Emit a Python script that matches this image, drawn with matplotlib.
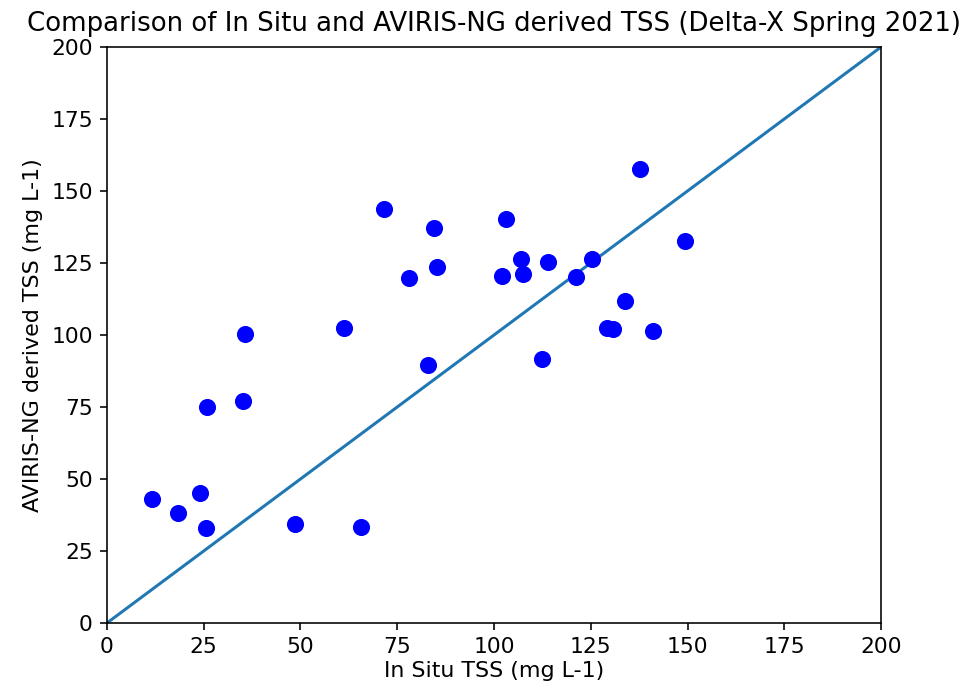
import matplotlib
matplotlib.use("Agg")
import matplotlib.pyplot as plt
import numpy as np

# in situ vs. AVIRIS-NG derived TSS (mg L-1)
insitu_tss = [11.6, 18.3, 24.0, 25.7, 25.9, 35.2, 35.7, 48.7, 61.2, 65.6,
              71.7, 78.0, 82.9, 84.4, 85.2, 102.1, 103.0, 107.0, 107.4, 112.3,
              113.9, 121.1, 125.2, 129.3, 130.8, 133.8, 137.7, 141.2, 149.4]
aviris_tss = [42.9, 38.3, 45.2, 33.1, 74.9, 77.1, 100.2, 34.4, 102.5, 33.2,
              143.6, 119.8, 89.6, 137.0, 123.6, 120.4, 140.3, 126.4, 121.3, 91.7,
              125.2, 120.3, 126.4, 102.5, 102.0, 111.7, 157.6, 101.5, 132.7]

one_to_one = [0, 200]
ticks = np.arange(0, 201, 25)

plt.rcParams.update({
    "xtick.labelsize": 10.8,
    "ytick.labelsize": 10.8,
    "axes.labelsize": 11,
})

dpi = 145
fig = plt.figure(figsize=(961 / dpi, 689 / dpi), dpi=dpi)
ax = fig.add_axes([0.1113, 0.0958, 0.8055, 0.836])

ax.scatter(insitu_tss, aviris_tss, color="blue", s=56, zorder=3)
ax.plot(one_to_one, one_to_one, color="C0")

ax.set_xlim(0, 200)
ax.set_ylim(0, 200)
ax.set_xticks(ticks)
ax.set_yticks(ticks)
ax.set_xlabel("In Situ TSS (mg L-1)", labelpad=2)
ax.set_ylabel("AVIRIS-NG derived TSS (mg L-1)")
ax.set_title("Comparison of In Situ and AVIRIS-NG derived TSS (Delta-X Spring 2021)",
             fontsize=12.9, pad=8)

fig.savefig("out.png", dpi=dpi)
